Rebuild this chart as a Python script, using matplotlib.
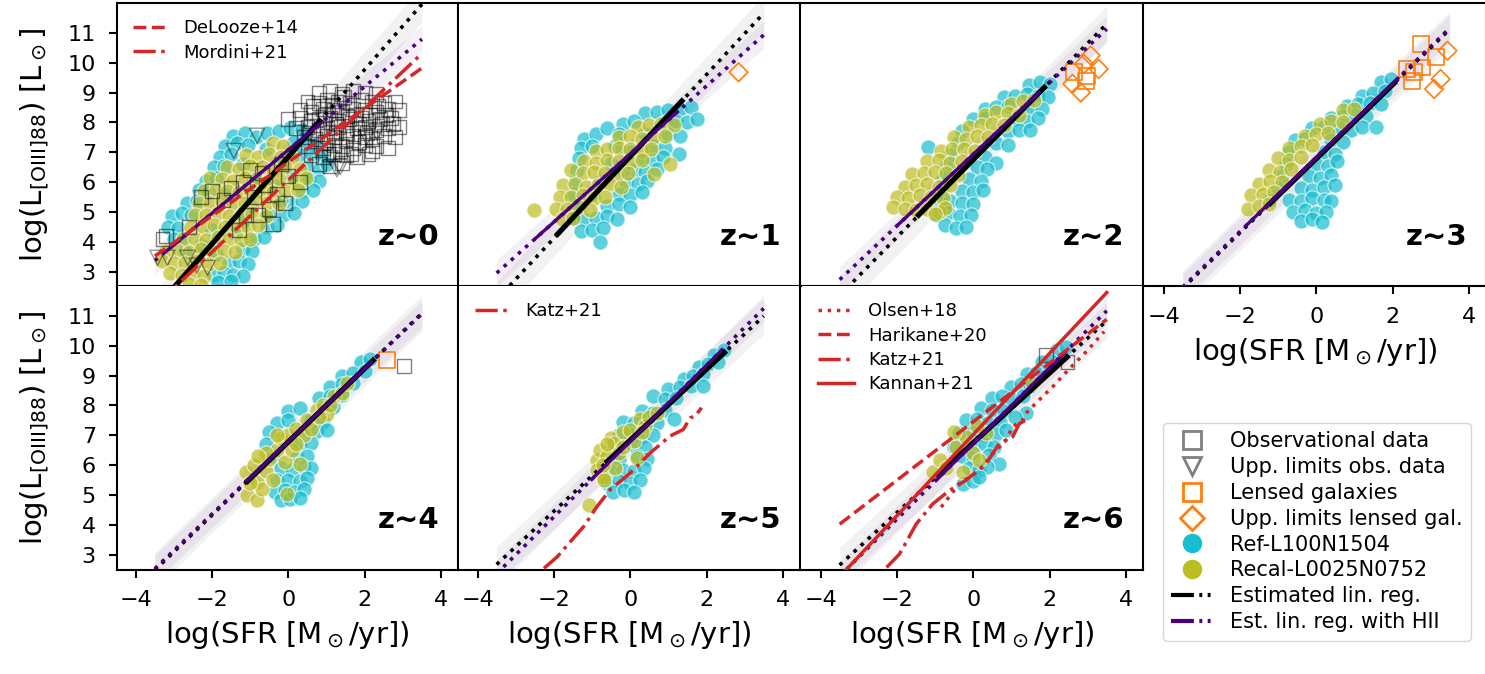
import numpy as np
import matplotlib
matplotlib.use("Agg")
import matplotlib.pyplot as plt
from matplotlib.lines import Line2D

CYAN = '#17becf'; OLIVE = '#bcbd22'; ORANGE = '#ff7f0e'; RED = '#d62728'; PURPLE = '#4b0082'

panel_labels = ['z~0', 'z~1', 'z~2', 'z~3', 'z~4', 'z~5', 'z~6']

# ---- regression lines (y at x=-3.5 and x=3.5) and their solid segments ----
line_x = [-3.5, 3.5]
fit_y_ends = [(1.74, 11.96), (2.06, 11.66), (2.20, 11.30), (2.44, 11.12), (2.48, 11.09), (2.67, 10.99), (2.65, 10.84)]
fit_solid = [((-3.3, 2.03), (0.86, 8.11)), ((-1.95, 4.19), (1.40, 8.78)), ((-1.48, 4.83), (1.91, 9.23)),
             ((-1.26, 5.22), (2.09, 9.37)), ((-1.12, 5.40), (2.27, 9.57)), ((-0.65, 6.06), (2.52, 9.83)),
             ((-0.97, 5.61), (2.51, 9.68))]
hii_y_ends = [(3.37, 10.79), (2.95, 10.93), (2.73, 11.13), (2.48, 11.16), (2.53, 11.07), (2.36, 11.25), (2.28, 11.17)]
hii_solid = [((-3.26, 3.62), (0.86, 7.99)), ((-2.51, 4.08), (1.27, 8.39)), ((-2.01, 4.52), (1.76, 9.04)),
             ((-1.83, 4.55), (2.17, 9.51)), ((-1.12, 5.43), (2.20, 9.48)), ((-1.04, 5.48), (2.40, 9.85)),
             ((-0.97, 5.49), (2.40, 9.77))]
fit_band = 0.6
hii_band = 0.45

# ---- literature relations ----
delooze14_y = [3.52, 9.82]          # z~0, at line_x
mordini21_y = [1.84, 10.31]         # z~0, at line_x
harikane20_y = [4.02, 10.88]        # z~6, at line_x
kannan21_y = [2.26, 11.78]          # z~6, at line_x
olsen18_x = [-0.84, -0.36, 0.16, 0.51, 0.86, 1.03, 1.29, 1.38, 1.64, 2.08, 2.5, 3.0, 3.43]
olsen18_y = [4.59, 5.38, 5.82, 6.38, 6.83, 7.28, 7.50, 7.73, 8.07, 8.62, 9.2, 9.85, 10.47]
katz21_z5_x = [-2.26, -1.91, -1.22, -0.87, -0.52, 0.0, 0.52, 1.04, 1.39, 1.57, 1.70, 1.87]
katz21_z5_y = [2.54, 2.93, 3.94, 4.61, 5.18, 5.73, 6.40, 6.97, 7.19, 7.58, 7.64, 7.92]
katz21_z6_x = [-2.27, -1.93, -1.49, -1.06, -0.62, -0.19, 0.34, 0.68, 1.03, 1.21, 1.47]
katz21_z6_y = [2.57, 3.02, 4.03, 4.70, 5.15, 5.49, 6.05, 6.72, 6.94, 7.39, 7.56]

# ---- simulated galaxies: Ref-L100N1504 (x = log SFR, y = log L) ----
REF_Z0 = [(-1.45, 7.55), (-1.15, 7.65), (-0.85, 7.5), (-0.55, 7.65), (-0.25, 7.7), (0.05, 7.8), (0.35, 7.75),
          (-1.65, 7.2), (-1.35, 7.3), (-1.05, 7.25), (0.15, 7.35), (0.45, 7.3), (0.7, 7.25),
          (-1.8, 6.85), (-1.5, 6.95), (0.3, 6.9), (0.6, 6.95), (0.85, 6.9),
          (-1.95, 6.5), (-1.7, 6.55), (0.5, 6.5), (0.8, 6.45), (1.0, 6.6),
          (-2.15, 6.05), (-1.9, 6.15), (0.55, 6.1), (0.8, 6.05),
          (-2.35, 5.75), (-2.1, 5.65), (0.35, 5.7), (0.65, 5.75),
          (-2.65, 5.3), (-2.4, 5.35), (0.05, 5.3), (0.35, 5.35),
          (-3.05, 4.85), (-2.8, 4.95), (-2.55, 4.9), (-0.15, 4.9), (0.15, 4.95),
          (-3.15, 4.5), (-2.9, 4.45), (-0.55, 4.5), (-0.3, 4.55),
          (-3.0, 4.1), (-2.75, 4.05), (-0.9, 4.1), (-0.65, 4.15),
          (-2.7, 3.7), (-1.2, 3.75), (-0.95, 3.7),
          (-1.55, 3.3), (-1.3, 3.35), (-1.05, 3.25),
          (-1.95, 2.9), (-1.7, 2.95), (-1.45, 2.9), (-1.2, 2.85), (-1.85, 2.65), (-1.5, 2.7),
          (-1.2, 6.6), (-0.6, 7.1), (-0.2, 6.6), (0.1, 6.2), (-0.4, 5.9), (-1.0, 5.2), (-0.5, 4.9), (-1.4, 4.3),
          (-2.0, 4.4), (-1.6, 5.6), (-0.9, 6.1), (-0.2, 5.4), (0.0, 6.9), (-1.9, 3.6), (-2.3, 3.9), (-1.2, 4.7)]
REF_Z1 = [(0.4, 8.3), (0.7, 8.35), (1.0, 8.4), (1.3, 8.45), (1.6, 8.5),
          (-0.2, 7.95), (0.1, 8.05), (0.9, 8.0), (1.2, 8.05), (1.5, 8.0), (1.75, 8.1),
          (-1.2, 7.45), (-0.9, 7.6), (-0.6, 7.8), (-0.3, 7.6), (1.0, 7.6), (1.3, 7.55),
          (-1.3, 7.15), (-1.0, 7.2), (0.6, 7.2), (0.9, 7.15), (1.27, 6.95),
          (-1.35, 6.8), (0.3, 6.8), (0.6, 6.75), (0.85, 6.85),
          (-1.4, 6.4), (0.1, 6.4), (0.4, 6.35), (0.7, 6.45),
          (-1.45, 6.0), (-0.1, 6.0), (0.2, 5.95), (0.45, 6.05),
          (-1.5, 5.6), (-0.3, 5.6), (0.0, 5.55), (0.3, 5.65),
          (-1.4, 5.2), (-0.6, 5.2), (-0.3, 5.25), (0.0, 5.15),
          (-1.5, 4.8), (-1.2, 4.75), (-0.9, 4.8), (-0.6, 4.85), (-0.35, 4.75),
          (-1.3, 4.35), (-1.0, 4.4), (-0.7, 4.45), (-0.8, 4.0),
          (-0.8, 6.0), (-0.5, 6.6), (0.0, 7.0), (-1.0, 5.6), (-0.4, 7.2), (0.4, 7.6), (-0.2, 6.4)]
REF_Z2 = [(1.45, 9.25), (1.75, 9.35), (2.0, 9.3),
          (0.8, 8.85), (1.1, 8.9), (1.4, 8.95), (1.7, 8.9), (1.95, 8.85),
          (0.3, 8.45), (0.6, 8.5), (0.9, 8.55), (1.5, 8.5), (1.8, 8.45),
          (0.0, 8.1), (0.3, 8.15), (1.1, 8.1), (1.4, 8.05), (1.7, 8.15),
          (-0.3, 7.7), (0.9, 7.7), (1.2, 7.75), (1.5, 7.75),
          (-0.4, 7.3), (0.6, 7.3), (0.9, 7.25), (-1.18, 7.16),
          (-0.6, 6.9), (0.3, 6.85), (0.6, 6.65),
          (-0.7, 6.5), (0.1, 6.5), (0.35, 6.45),
          (-0.8, 6.1), (-0.1, 6.1), (0.2, 6.05),
          (-0.85, 5.7), (-0.3, 5.7), (0.0, 5.65), (0.25, 5.75),
          (-0.9, 5.3), (-0.6, 5.35), (-0.3, 5.3), (0.0, 5.25),
          (-0.95, 4.9), (-0.65, 4.95), (-0.35, 4.85), (-0.05, 4.9),
          (-0.75, 4.55), (-0.45, 4.45), (-0.2, 4.5)]
REF_Z3 = [(1.7, 9.35), (1.95, 9.45),
          (1.2, 8.9), (1.5, 9.0), (1.8, 9.05),
          (0.8, 8.55), (1.1, 8.6), (1.4, 8.65), (1.7, 8.6),
          (0.4, 8.15), (0.7, 8.2), (1.0, 8.25), (1.3, 8.2),
          (-0.1, 7.8), (0.2, 7.85), (0.6, 7.8), (0.9, 7.75), (1.2, 7.85), (1.57, 7.83),
          (-0.55, 7.4), (-0.3, 7.45), (0.4, 7.4), (0.7, 7.35),
          (-0.7, 7.0), (0.2, 7.0), (0.5, 6.95),
          (-0.8, 6.6), (0.0, 6.6), (0.3, 6.55), (0.55, 6.7),
          (-0.9, 6.2), (-0.2, 6.2), (0.1, 6.15), (0.4, 6.25),
          (-1.0, 5.8), (-0.4, 5.8), (-0.1, 5.75), (0.2, 5.85), (0.5, 5.9),
          (-1.2, 5.4), (-0.7, 5.4), (-0.4, 5.35), (-0.1, 5.45), (0.2, 5.4), (0.4, 5.35),
          (-0.6, 5.0), (-0.3, 5.05), (0.0, 4.95), (0.25, 5.0),
          (-0.4, 4.7), (-0.1, 4.75), (0.15, 4.65)]
REF_Z4 = [(1.9, 9.45), (2.15, 9.55),
          (1.4, 9.0), (1.7, 9.1), (2.0, 9.15),
          (1.1, 8.6), (1.4, 8.7), (1.7, 8.75),
          (0.8, 8.25), (1.1, 8.3), (1.4, 8.35),
          (0.0, 7.8), (0.3, 7.9), (0.9, 7.9), (1.18, 7.95),
          (-0.3, 7.4), (0.0, 7.5), (0.6, 7.5), (0.9, 7.45),
          (-0.5, 7.1), (0.4, 7.1), (0.75, 7.15), (1.01, 7.17),
          (-0.6, 6.7), (0.3, 6.7), (0.6, 6.75),
          (-0.4, 6.3), (0.23, 6.27), (0.5, 6.3),
          (-0.2, 5.9), (0.1, 5.85), (0.4, 5.95), (0.6, 5.9),
          (-0.3, 5.5), (0.0, 5.5), (0.3, 5.45), (0.5, 5.55),
          (-0.35, 5.1), (-0.1, 5.15), (0.15, 5.1), (0.4, 5.2),
          (-0.2, 4.82), (0.05, 4.85), (0.3, 4.9)]
REF_Z5 = [(2.2, 9.7), (2.45, 9.85),
          (1.8, 9.3), (2.05, 9.4), (2.3, 9.45),
          (1.4, 8.9), (1.65, 9.0), (1.9, 9.05),
          (1.0, 8.55), (1.3, 8.6), (1.6, 8.65), (1.92, 8.65),
          (0.6, 8.3), (0.9, 8.2), (1.2, 8.25),
          (0.3, 7.8), (0.6, 7.75), (0.9, 7.85), (1.14, 7.53),
          (-0.2, 7.45), (0.1, 7.4), (0.4, 7.35), (0.7, 7.4),
          (-0.3, 7.0), (0.0, 7.05), (0.3, 6.95), (0.6, 7.0),
          (-0.4, 6.6), (0.1, 6.65), (0.4, 6.6),
          (-0.3, 6.2), (0.17, 6.29), (0.45, 6.2),
          (-0.5, 5.8), (-0.2, 5.85), (0.1, 5.8), (0.35, 5.9),
          (-0.6, 5.4), (-0.3, 5.45), (0.0, 5.4), (0.26, 5.51),
          (-0.45, 5.1), (-0.17, 5.17), (0.1, 5.1)]
REF_Z6 = [(2.2, 9.85), (2.43, 9.97),
          (1.8, 9.45), (2.05, 9.5),
          (1.4, 9.05), (1.65, 9.1),
          (1.0, 8.6), (1.25, 8.7), (1.5, 8.65),
          (0.5, 8.25), (0.75, 8.3), (1.0, 8.2), (1.3, 8.3),
          (0.2, 7.9), (0.5, 7.85), (0.8, 7.8), (1.38, 7.73),
          (-0.2, 7.5), (0.1, 7.55), (0.4, 7.4), (0.7, 7.45), (1.1, 7.6),
          (-0.36, 7.06), (0.0, 7.1), (0.3, 7.0), (0.6, 7.05), (0.86, 7.17),
          (-0.5, 6.6), (0.0, 6.6), (0.3, 6.7), (0.55, 6.6),
          (-0.3, 6.3), (0.0, 6.25), (0.42, 6.35), (0.68, 6.05),
          (-0.1, 5.9), (0.15, 5.85), (0.35, 5.95),
          (-0.27, 5.38), (0.0, 5.45), (0.16, 5.6)]

# ---- simulated galaxies: Recal-L0025N0752 ----
RECAL_Z0 = [(-0.4, 7.3), (-0.15, 7.2),
            (-1.1, 6.9), (-0.8, 6.85), (-0.5, 6.95), (-0.2, 6.85), (0.1, 6.8),
            (-1.6, 6.5), (-1.3, 6.45), (-1.0, 6.55), (-0.7, 6.5), (-0.4, 6.4), (-0.1, 6.5), (0.3, 6.45),
            (-2.05, 6.15), (-1.75, 6.1), (-1.45, 6.05), (-1.15, 6.15), (-0.85, 6.1), (-0.55, 6.0), (-0.25, 6.1),
            (0.15, 6.05), (0.45, 6.15),
            (-2.2, 5.7), (-1.9, 5.75), (-1.6, 5.7), (-1.3, 5.65), (-1.0, 5.75), (-0.7, 5.7), (-0.4, 5.65),
            (-0.1, 5.7), (0.25, 5.75),
            (-2.35, 5.3), (-2.05, 5.3), (-1.75, 5.35), (-1.45, 5.25), (-1.15, 5.3), (-0.85, 5.35), (-0.55, 5.3),
            (-0.25, 5.25),
            (-2.45, 4.9), (-2.15, 4.9), (-1.85, 4.95), (-1.55, 4.85), (-1.25, 4.9), (-0.95, 4.95), (-0.6, 4.85),
            (-2.55, 4.5), (-2.25, 4.45), (-1.95, 4.55), (-1.65, 4.5), (-1.35, 4.45), (-1.05, 4.5), (-0.8, 4.55),
            (-2.75, 4.1), (-2.45, 4.1), (-2.15, 4.05), (-1.85, 4.15), (-1.55, 4.1), (-1.25, 4.05), (-1.0, 4.1),
            (-3.2, 3.7), (-2.9, 3.7), (-2.6, 3.65), (-2.3, 3.75), (-2.0, 3.7), (-1.7, 3.7), (-1.4, 3.65),
            (-3.3, 3.35), (-3.0, 3.3), (-2.7, 3.3), (-2.4, 3.35), (-2.1, 3.25), (-1.8, 3.3),
            (-3.1, 2.95), (-2.8, 2.9), (-2.5, 2.95), (-2.2, 2.85), (-2.6, 2.6), (-2.3, 2.55)]
RECAL_Z1 = [(0.2, 7.85), (0.5, 7.9), (0.8, 7.95), (1.15, 7.9),
            (-0.3, 7.5), (0.0, 7.55), (0.3, 7.45), (0.6, 7.5), (0.9, 7.55),
            (-0.9, 7.05), (-0.6, 7.1), (-0.3, 7.15), (0.0, 7.1), (0.3, 7.05), (0.55, 7.1),
            (-1.2, 6.7), (-0.9, 6.65), (-0.6, 6.75), (-0.3, 6.7), (0.0, 6.65), (0.3, 6.75),
            (-1.55, 6.4), (-1.25, 6.3), (-0.95, 6.35), (-0.65, 6.3), (-0.35, 6.25), (-0.05, 6.3), (0.62, 6.26),
            (-1.75, 5.9), (-1.45, 5.95), (-1.15, 5.85), (-0.85, 5.9), (-0.55, 5.95), (-0.25, 5.85),
            (-1.85, 5.5), (-1.55, 5.5), (-1.25, 5.55), (-0.95, 5.45), (-0.65, 5.5),
            (-1.95, 5.1), (-1.65, 5.1), (-1.35, 5.15), (-1.05, 5.05),
            (-1.8, 4.75), (-1.5, 4.8), (1.05, 6.6), (-2.51, 5.08)]
RECAL_Z2 = [(1.0, 8.6), (1.3, 8.7), (1.6, 8.75),
            (0.3, 8.25), (0.6, 8.35), (0.9, 8.3), (1.2, 8.25),
            (-0.1, 7.85), (0.2, 7.9), (0.5, 7.95), (0.8, 7.9),
            (-0.5, 7.5), (-0.2, 7.45), (0.1, 7.55), (0.4, 7.5),
            (-0.85, 7.05), (-0.55, 7.1), (-0.25, 7.1), (0.05, 7.05),
            (-1.2, 6.7), (-0.9, 6.75), (-0.6, 6.65), (-0.3, 6.7),
            (-1.6, 6.26), (-1.3, 6.3), (-1.0, 6.35), (-0.7, 6.3), (-0.4, 6.25),
            (-1.8, 5.85), (-1.5, 5.9), (-1.2, 5.95), (-0.9, 5.85), (-0.6, 5.9),
            (-2.0, 5.5), (-1.7, 5.45), (-1.4, 5.55), (-1.1, 5.5), (-0.8, 5.45),
            (-2.1, 5.15), (-1.8, 5.1), (-1.5, 5.05), (-1.2, 5.1), (-0.9, 5.0),
            (-0.74, 5.14), (-1.01, 4.92)]
RECAL_Z3 = [(0.7, 8.4), (1.0, 8.45),
            (0.1, 7.95), (0.4, 8.05), (0.7, 8.0),
            (-0.3, 7.55), (0.0, 7.6), (0.3, 7.65),
            (-0.7, 7.15), (-0.4, 7.2), (-0.1, 7.25),
            (-1.0, 6.8), (-0.7, 6.75), (-0.4, 6.85),
            (-1.25, 6.4), (-0.95, 6.35), (-0.65, 6.45),
            (-1.5, 5.95), (-1.2, 6.05), (-0.9, 6.0),
            (-1.7, 5.55), (-1.4, 5.6), (-1.1, 5.65),
            (-1.8, 5.1), (-1.5, 5.2), (-1.25, 5.25)]
RECAL_Z4 = [(-1.12, 5.77), (-1.08, 4.98), (-0.82, 4.82), (-0.82, 5.43), (-0.9, 6.0), (-0.7, 5.2), (-0.6, 5.8),
            (-0.5, 6.2), (-0.4, 5.5), (-0.3, 6.5), (-0.2, 6.9), (-0.1, 6.1), (0.0, 7.0), (0.1, 6.5), (-0.03, 5.04),
            (0.2, 7.2), (0.31, 6.05), (0.4, 7.0), (0.5, 7.5), (0.6, 7.2), (0.75, 7.84), (0.9, 8.0), (1.0, 7.7),
            (1.2, 8.3), (1.4, 8.4), (1.53, 8.74), (-0.6, 6.4), (-0.8, 6.3), (-0.3, 7.0), (0.2, 6.7), (0.8, 7.6),
            (1.1, 8.0), (-1.0, 5.4)]
RECAL_Z5 = [(-1.09, 4.67), (-0.87, 6.18), (-0.87, 5.85), (-0.8, 6.5), (-0.7, 5.6), (-0.69, 5.51), (-0.6, 6.3),
            (-0.5, 6.9), (-0.43, 6.75), (-0.3, 6.4), (-0.2, 7.1), (0.0, 7.19), (0.1, 6.8), (0.17, 6.24), (0.26, 7.53),
            (0.4, 7.3), (0.5, 7.6), (0.7, 7.75), (-0.4, 5.9), (-0.7, 6.0), (-0.2, 6.6), (0.3, 7.1), (-0.6, 6.7)]
RECAL_Z6 = [(-1.06, 5.77), (-0.88, 6.16), (-0.7, 5.9), (-0.45, 6.61), (-0.27, 5.77), (-0.19, 6.94), (0.0, 6.4),
            (0.16, 6.16), (0.34, 7.06), (-0.5, 7.1), (1.55, 8.74), (0.1, 7.3)]

# ---- observations ----
OBS_Z0 = [(0.8, 9.0), (1.1, 9.05), (1.4, 8.95), (1.7, 9.05), (2.0, 9.0), (2.3, 8.95),
          (0.5, 8.7), (0.8, 8.65), (1.0, 8.75), (1.3, 8.7), (1.6, 8.65), (1.9, 8.75), (2.2, 8.7), (2.5, 8.65), (2.8, 8.7),
          (0.3, 8.4), (0.6, 8.35), (0.9, 8.45), (1.2, 8.4), (1.4, 8.35), (1.7, 8.45), (2.0, 8.4), (2.3, 8.35),
          (2.6, 8.45), (2.9, 8.4),
          (0.0, 8.1), (0.3, 8.15), (0.6, 8.05), (0.8, 8.1), (1.1, 8.15), (1.3, 8.05), (1.6, 8.1), (1.9, 8.15),
          (2.1, 8.05), (2.4, 8.1), (2.7, 8.15),
          (0.2, 7.8), (0.5, 7.85), (0.8, 7.75), (1.0, 7.8), (1.3, 7.85), (1.5, 7.75), (1.8, 7.8), (2.0, 7.85),
          (2.3, 7.75), (2.6, 7.8), (2.9, 7.85),
          (0.4, 7.5), (0.7, 7.45), (1.0, 7.55), (1.2, 7.5), (1.5, 7.45), (1.7, 7.55), (2.0, 7.5), (2.2, 7.45),
          (2.5, 7.55), (2.8, 7.5),
          (0.5, 7.2), (0.9, 7.15), (1.2, 7.25), (1.4, 7.2), (1.7, 7.15), (2.0, 7.25), (2.3, 7.2), (2.6, 7.15),
          (0.6, 6.9), (0.9, 6.85), (1.2, 6.95), (1.5, 6.9), (1.8, 6.85), (2.1, 6.95),
          (0.8, 6.6), (1.1, 6.55), (1.4, 6.65),
          (0.65, 8.55), (0.95, 8.25), (1.25, 7.95), (1.55, 7.65), (1.85, 7.35), (2.15, 8.25), (2.45, 7.95),
          (1.15, 8.55), (1.75, 8.25), (2.05, 7.65), (1.45, 8.85), (0.95, 7.35), (1.35, 7.05), (2.35, 8.55),
          (0.55, 7.65), (1.65, 6.95), (2.75, 7.95), (1.05, 6.95), (0.75, 7.6), (2.55, 8.25), (1.55, 8.2),
          (1.85, 7.95), (1.25, 7.65), (2.2, 7.05),
          (-3.3, 4.1), (-3.2, 4.2), (-2.3, 5.5), (-2.0, 5.7), (-1.7, 5.4), (-1.5, 5.8), (-1.2, 6.0), (-0.9, 5.5),
          (-0.5, 5.1), (-0.6, 5.9), (-0.3, 5.6), (-1.0, 6.4), (-0.2, 6.6), (0.0, 6.2), (-0.8, 4.9), (-1.3, 4.4),
          (-0.4, 4.6), (-2.6, 4.5), (0.3, 6.0), (-0.1, 5.3), (-1.1, 4.9), (-0.7, 6.3)]
OBS_UL_Z0 = [(-0.82, 7.55), (-1.43, 7.04), (1.27, 6.43), (1.1, 6.8), (2.05, 7.5), (2.32, 7.66), (-2.12, 3.12),
             (-3.43, 3.46), (-3.17, 3.46), (-2.64, 3.46), (-2.4, 3.2), (1.36, 6.5)]
OBS_Z4 = [(3.04, 9.33)]
OBS_Z6 = [(1.9, 9.69), (2.47, 9.46)]
LENS_Z2 = [(2.65, 9.68), (2.95, 9.4), (2.99, 9.56)]
LENS_Z3 = [(2.74, 10.63), (3.13, 10.18), (2.39, 9.79), (2.52, 9.40), (2.57, 9.68), (2.78, 9.84)]
LENS_Z4 = [(2.59, 9.52)]
LENS_UL_Z1 = [(2.84, 9.68)]
LENS_UL_Z2 = [(3.08, 10.24), (3.29, 9.79), (2.9, 9.96), (2.6, 9.29), (2.82, 9.0)]
LENS_UL_Z3 = [(3.44, 10.40), (3.26, 9.45), (3.09, 9.12)]

ref_sets = [REF_Z0, REF_Z1, REF_Z2, REF_Z3, REF_Z4, REF_Z5, REF_Z6]
recal_sets = [RECAL_Z0, RECAL_Z1, RECAL_Z2, RECAL_Z3, RECAL_Z4, RECAL_Z5, RECAL_Z6]
obs_sets = [OBS_Z0, [], [], [], OBS_Z4, [], OBS_Z6]
obs_ul_sets = [OBS_UL_Z0, [], [], [], [], [], []]
lens_sets = [[], [], LENS_Z2, LENS_Z3, LENS_Z4, [], []]
lens_ul_sets = [[], LENS_UL_Z1, LENS_UL_Z2, LENS_UL_Z3, [], [], []]

xticks = [-4, -2, 0, 2, 4]
yticks = [3, 4, 5, 6, 7, 8, 9, 10, 11]

# ---------------------------------------------------------------------------
W, H = 1485, 674
fig = plt.figure(figsize=(W / 100, H / 100), dpi=100)
lefts = [116.7, 458.5, 801.5, 1144.5]
tops = [3.0, 286.0]
aw, ah = 341.5, 283.5

xlabel = r'log(SFR [M$_\odot$/yr])'
ylabel = r'log(L$_{\rm [OIII]88}$) [L$_\odot$]'


def xy(pts):
    if len(pts) == 0:
        return np.array([]), np.array([])
    a = np.array(pts)
    return a[:, 0], a[:, 1]


for i in range(7):
    r, c = divmod(i, 4)
    ax = fig.add_axes([lefts[c] / W, 1 - (tops[r] + ah) / H, aw / W, ah / H])
    ax.set_xlim(-4.5, 4.45)
    ax.set_ylim(2.5, 12.0)
    for s in ax.spines.values():
        s.set_linewidth(1.5)
    if c > 0:
        ax.spines['left'].set_visible(False)
    if r == 1:
        ax.spines['top'].set_visible(False)
    ax.set_xticks(xticks)
    ax.set_yticks(yticks)
    ax.tick_params(direction='out', length=6, width=1.5, labelsize=16, pad=9)

    # bands
    fy = np.array(fit_y_ends[i]); hy = np.array(hii_y_ends[i])
    ax.fill_between(line_x, fy - fit_band, fy + fit_band, color='grey', alpha=0.1, lw=0, zorder=0)
    ax.fill_between(line_x, hy - hii_band, hy + hii_band, color=PURPLE, alpha=0.06, lw=0, zorder=0)

    # simulated clouds
    x, y = xy(ref_sets[i])
    ax.scatter(x, y, s=120, color=CYAN, alpha=0.7, edgecolors='white', linewidths=0.8, zorder=1)
    x, y = xy(recal_sets[i])
    ax.scatter(x, y, s=120, color=OLIVE, alpha=0.7, edgecolors='white', linewidths=0.8, zorder=2)

    # observations
    x, y = xy(obs_sets[i])
    if len(x):
        ax.scatter(x, y, s=100, marker='s', facecolors='none', edgecolors='k', alpha=0.5, linewidths=1.0, zorder=3)
    x, y = xy(obs_ul_sets[i])
    if len(x):
        ax.scatter(x, y, s=120, marker='v', facecolors='none', edgecolors='k', alpha=0.4, linewidths=1.0, zorder=3)
    x, y = xy(lens_sets[i])
    if len(x):
        ax.scatter(x, y, s=130, marker='s', facecolors='none', edgecolors=ORANGE, linewidths=1.2, zorder=3)
    x, y = xy(lens_ul_sets[i])
    if len(x):
        ax.scatter(x, y, s=90, marker='D', facecolors='none', edgecolors=ORANGE, linewidths=1.2, zorder=3)

    # regressions
    ax.plot(line_x, fit_y_ends[i], color='k', ls=':', lw=2.6, zorder=5)
    ax.plot(line_x, hii_y_ends[i], color=PURPLE, ls=':', lw=2.6, zorder=5)
    (a0, a1) = fit_solid[i]
    ax.plot([a0[0], a1[0]], [a0[1], a1[1]], color='k', lw=3.8, solid_capstyle='butt', zorder=6)
    (b0, b1) = hii_solid[i]
    ax.plot([b0[0], b1[0]], [b0[1], b1[1]], color=PURPLE, lw=2.4, solid_capstyle='butt', zorder=6)

    # literature
    if i == 0:
        ax.plot(line_x, delooze14_y, color=RED, ls='--', lw=2.5, label='DeLooze+14', zorder=7)
        ax.plot(line_x, mordini21_y, color=RED, ls='-.', lw=2.5, label='Mordini+21', zorder=7)
        ax.legend(loc='upper left', frameon=False, fontsize=13, labelspacing=0.35)
    if i == 5:
        ax.plot(katz21_z5_x, katz21_z5_y, color=RED, ls='-.', lw=2.5, label='Katz+21', zorder=7)
        ax.legend(loc='upper left', frameon=False, fontsize=13, labelspacing=0.35)
    if i == 6:
        ax.plot(olsen18_x, olsen18_y, color=RED, ls=':', lw=2.5, label='Olsen+18', zorder=7)
        ax.plot(line_x, harikane20_y, color=RED, ls='--', lw=2.5, label='Harikane+20', zorder=7)
        ax.plot(katz21_z6_x, katz21_z6_y, color=RED, ls='-.', lw=2.5, label='Katz+21', zorder=7)
        ax.plot(line_x, kannan21_y, color=RED, ls='-', lw=2.5, label='Kannan+21', zorder=7)
        ax.legend(loc='upper left', frameon=False, fontsize=13, labelspacing=0.35)

    ax.text(0.945, 0.145, panel_labels[i], transform=ax.transAxes, ha='right', va='baseline',
            fontsize=21, fontweight='bold', zorder=10)

    if r == 0 and c < 3:
        ax.tick_params(axis='x', bottom=False, labelbottom=False)
    else:
        ax.set_xlabel(xlabel, fontsize=21, labelpad=6)
    if c > 0:
        ax.tick_params(axis='y', left=False, labelleft=False)
    else:
        ax.set_ylabel(ylabel, fontsize=21, labelpad=12)

handles = [
    Line2D([], [], marker='s', ls='none', mfc='none', mec='grey', ms=13, mew=2),
    Line2D([], [], marker='v', ls='none', mfc='none', mec='grey', ms=13, mew=2),
    Line2D([], [], marker='s', ls='none', mfc='none', mec=ORANGE, ms=13, mew=2),
    Line2D([], [], marker='D', ls='none', mfc='none', mec=ORANGE, ms=12, mew=2),
    Line2D([], [], marker='o', ls='none', mfc=CYAN, mec=CYAN, ms=13),
    Line2D([], [], marker='o', ls='none', mfc=OLIVE, mec=OLIVE, ms=13),
    Line2D([], [], color='k', lw=3, dashes=(5.5, 1.3, 0.7, 1.3, 0.7, 3)),
    Line2D([], [], color=PURPLE, lw=3, dashes=(5.5, 1.3, 0.7, 1.3, 0.7, 3)),
]
labels = ['Observational data', 'Upp. limits obs. data', 'Lensed galaxies', 'Upp. limits lensed gal.',
          'Ref-L100N1504', 'Recal-L0025N0752', 'Estimated lin. reg.', 'Est. lin. reg. with HII']
fig.legend(handles, labels, loc='upper left', bbox_to_anchor=(1163 / W, 1 - 423 / H), borderaxespad=0,
           fontsize=15, labelspacing=0.28, handlelength=2.0)

fig.savefig('out.png', dpi=100)
